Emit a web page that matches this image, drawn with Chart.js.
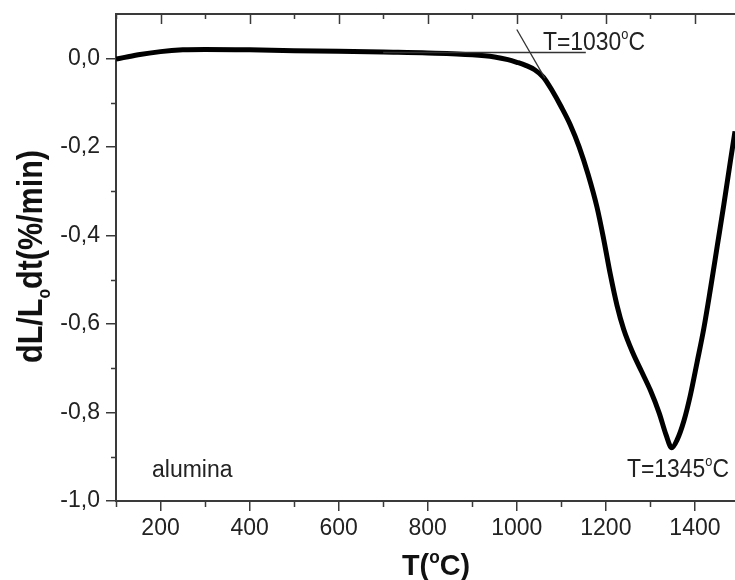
<!DOCTYPE html>
<html>
<head>
<meta charset="utf-8">
<script src="https://cdn.jsdelivr.net/npm/chart.js@4.4.1/dist/chart.umd.min.js"></script>
<style>
  body { margin: 0; background: #fff; }
  #wrap { width: 735px; height: 580px; }
</style>
</head>
<body>
<div id="wrap"><canvas id="chart" width="735" height="580"></canvas></div>
<script>
// dilatometria - derivada de la contraccion (alumina)
const TEMP_C = [100, 150, 200, 250, 300, 400, 500, 600, 700, 800, 900, 950, 980, 1000, 1020, 1040, 1060,
  1080, 1100, 1120, 1140, 1160, 1180, 1195, 1210, 1225, 1240, 1260, 1280, 1300, 1320, 1335, 1348,
  1360, 1375, 1390, 1405, 1420, 1435, 1450, 1465, 1480, 1490];
const RATE = [-0.002, 0.008, 0.015, 0.019, 0.020, 0.019, 0.017, 0.016, 0.014, 0.012, 0.008, 0.003, -0.003, -0.009, -0.016, -0.026, -0.043,
  -0.074, -0.110, -0.150, -0.200, -0.262, -0.336, -0.408, -0.488, -0.558, -0.612, -0.664, -0.707, -0.750, -0.802, -0.850, -0.880,
  -0.862, -0.820, -0.760, -0.686, -0.610, -0.520, -0.425, -0.330, -0.230, -0.165];

// recta tangente y linea base para el onset (1030 C)
const TANGENT_X = [1000, 1063];
const TANGENT_Y = [0.065, -0.045];
const BASE_X = [700, 1155];
const BASE_Y = [0.013, 0.013];

const X_TICKS = [200, 400, 600, 800, 1000, 1200, 1400];
const X_MINOR = [100, 300, 500, 700, 900, 1100, 1300];
const Y_TICKS = [0.0, -0.2, -0.4, -0.6, -0.8, -1.0];
const Y_MINOR = [-0.1, -0.3, -0.5, -0.7, -0.9];

const AXIS_COLOR = '#3a3a3a';
const TEXT_COLOR = '#222';
const FONT = '"Liberation Sans", Arial, sans-serif';

function puntos(xs, ys) {
  return xs.map((x, i) => ({ x: x, y: ys[i] }));
}

// texto con partes (superindice / subindice), escalado a un ancho
function textoRico(ctx, partes, x, y, ancho) {
  let total = 0;
  partes.forEach(p => { ctx.font = p.font; total += ctx.measureText(p.t).width; });
  const s = ancho ? ancho / total : 1;
  ctx.save();
  ctx.translate(x, y);
  ctx.scale(s, 1);
  let cx = 0;
  partes.forEach(p => {
    ctx.font = p.font;
    ctx.fillText(p.t, cx, p.dy || 0);
    cx += ctx.measureText(p.t).width;
  });
  ctx.restore();
}

const overlay = {
  id: 'overlay',
  afterDraw(chart) {
    const { ctx, chartArea: a, scales } = chart;
    const xs = scales.x, ys = scales.y;
    ctx.save();
    ctx.strokeStyle = AXIS_COLOR;
    ctx.lineWidth = 2;
    ctx.beginPath();
    ctx.moveTo(a.left - 1, a.top);
    ctx.lineTo(a.right, a.top);
    ctx.stroke();

    ctx.lineWidth = 1.5;
    ctx.beginPath();
    X_MINOR.forEach(v => {
      const px = Math.round(xs.getPixelForValue(v)) + 0.5;
      ctx.moveTo(px, a.bottom); ctx.lineTo(px, a.bottom + 6);
      ctx.moveTo(px, a.top); ctx.lineTo(px, a.top + 5);
    });
    X_TICKS.forEach(v => {
      const px = Math.round(xs.getPixelForValue(v)) + 0.5;
      ctx.moveTo(px, a.top); ctx.lineTo(px, a.top + 10);
    });
    Y_MINOR.forEach(v => {
      const py = Math.round(ys.getPixelForValue(v)) + 0.5;
      ctx.moveTo(a.left, py); ctx.lineTo(a.left - 5, py);
    });
    ctx.stroke();

    ctx.fillStyle = TEXT_COLOR;
    ctx.textBaseline = 'alphabetic';
    ctx.textAlign = 'left';

    // anotaciones
    textoRico(ctx, [
      { t: 'T=1030', font: '25px ' + FONT },
      { t: 'o', font: '14px ' + FONT, dy: -11 },
      { t: 'C', font: '25px ' + FONT }
    ], 543, 50, 102);
    textoRico(ctx, [
      { t: 'T=1345', font: '25px ' + FONT },
      { t: 'o', font: '14px ' + FONT, dy: -11 },
      { t: 'C', font: '25px ' + FONT }
    ], 627, 477, 102);
    ctx.font = '23px ' + FONT;
    ctx.fillText('alumina', 152, 477);

    // titulo eje x
    ctx.fillStyle = '#111';
    textoRico(ctx, [
      { t: 'T(', font: 'bold 30px ' + FONT },
      { t: 'o', font: 'bold 18px ' + FONT, dy: -12 },
      { t: 'C)', font: 'bold 30px ' + FONT }
    ], 402, 575, 68);

    // titulo eje y (rotado)
    ctx.save();
    ctx.translate(41.5, 363);
    ctx.rotate(-Math.PI / 2);
    textoRico(ctx, [
      { t: 'dL/L', font: 'bold 35px ' + FONT },
      { t: 'o', font: 'bold 18px ' + FONT, dy: 8 },
      { t: 'dt(%/min)', font: 'bold 35px ' + FONT }
    ], 0, 0, 213);
    ctx.restore();

    ctx.restore();
  }
};

new Chart(document.getElementById('chart'), {
  type: 'line',
  data: {
    datasets: [
      {
        data: puntos(TANGENT_X, TANGENT_Y),
        borderColor: '#333', borderWidth: 1.3, pointRadius: 0, order: 1
      },
      {
        data: puntos(BASE_X, BASE_Y),
        borderColor: '#333', borderWidth: 1.3, pointRadius: 0, order: 1
      },
      {
        data: puntos(TEMP_C, RATE),
        borderColor: '#000', borderWidth: 5, pointRadius: 0,
        cubicInterpolationMode: 'monotone', order: 2
      }
    ]
  },
  options: {
    responsive: false,
    animation: false,
    layout: { padding: { top: 14, right: 0, left: 0, bottom: 0 } },
    plugins: { legend: { display: false }, tooltip: { enabled: false } },
    scales: {
      x: {
        type: 'linear',
        min: 100, max: 1490,
        afterFit: s => { s.height = 79; s.paddingLeft = 0; s.paddingRight = 0; },
        afterBuildTicks: s => { s.ticks = X_TICKS.map(v => ({ value: v })); },
        border: { display: true, color: AXIS_COLOR, width: 2 },
        grid: { drawOnChartArea: false, drawTicks: true, tickLength: 10, color: AXIS_COLOR, lineWidth: 1.5 },
        ticks: {
          autoSkip: false, maxRotation: 0, padding: 4,
          color: TEXT_COLOR, font: { family: FONT, size: 23 },
          callback: v => String(v)
        }
      },
      y: {
        type: 'linear',
        min: -1.0, max: 0.1,
        afterFit: s => { s.width = 116; s.paddingTop = 0; s.paddingBottom = 0; },
        afterBuildTicks: s => { s.ticks = Y_TICKS.map(v => ({ value: v })); },
        border: { display: true, color: AXIS_COLOR, width: 2 },
        grid: { drawOnChartArea: false, drawTicks: true, tickLength: 10, color: AXIS_COLOR, lineWidth: 1.5 },
        ticks: {
          autoSkip: false, padding: 6,
          color: TEXT_COLOR, font: { family: FONT, size: 23 },
          callback: v => v.toFixed(1).replace('.', ',')
        }
      }
    }
  },
  plugins: [overlay]
});
</script>
</body>
</html>
